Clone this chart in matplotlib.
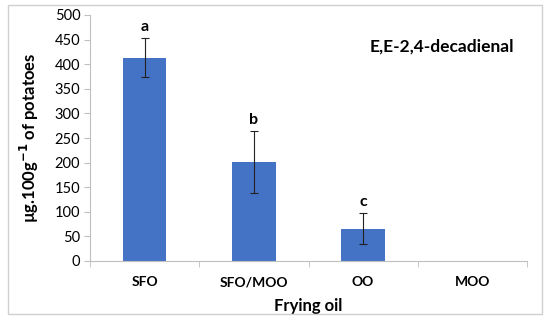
import matplotlib
matplotlib.use("Agg")
import matplotlib.pyplot as plt
from matplotlib.patches import Rectangle
import numpy as np

categories = ["SFO", "SFO/MOO", "OO", "MOO"]
values = [413, 202, 66, 0]
errors = [40, 63, 31, 0]
letters = ["a", "b", "c", ""]

plt.rcParams['font.family'] = ['Lato', 'DejaVu Sans']

fig = plt.figure(figsize=(5.5, 3.23), dpi=100)
ax = fig.add_axes([90/550, 62/323, 437/550, 246/323])

x = np.arange(len(categories))
ax.bar(x, values, width=0.4, color="#4472C4", zorder=2)
for xi, v, e, l in zip(x, values, errors, letters):
    if e > 0:
        ax.errorbar(xi, v, yerr=e, fmt="none", ecolor="#222222", elinewidth=0.8,
                    capsize=3, capthick=0.8, zorder=3)
    if l:
        ax.text(xi, v + e + 8, l, ha="center", va="bottom", fontsize=11.5, fontweight="bold")

ax.set_xlim(-0.5, len(categories) - 0.5)
ax.set_ylim(0, 500)
ax.set_yticks(np.arange(0, 501, 50))
ax.set_xticks(x)
ax.set_xticklabels(categories, fontsize=10, fontweight="bold")
ax.set_xticks(np.arange(-0.5, len(categories), 1), minor=True)
ax.tick_params(axis="x", which="major", length=0, pad=11)
ax.tick_params(axis="x", which="minor", length=4, color="#BFBFBF")
ax.tick_params(axis="y", labelsize=10.5, length=4, color="#BFBFBF", pad=3)
for s in ["top", "right"]:
    ax.spines[s].set_visible(False)
for s in ["left", "bottom"]:
    ax.spines[s].set_color("#BFBFBF")
    ax.spines[s].set_linewidth(0.8)

ax.set_xlabel("Frying oil", fontsize=12, fontweight="bold", labelpad=7)
ax.set_ylabel(r"µg.100g$^{\mathbf{-1}}$ of potatoes", fontsize=12, fontweight="bold", labelpad=10)
ax.text(0.97, 0.87, "E,E-2,4-decadienal", transform=ax.transAxes, ha="right", va="center",
        fontsize=12.5, fontweight="bold")

fig.patches.append(Rectangle((8/550, 9/323), 534/550, 309/323, transform=fig.transFigure,
                             fill=False, edgecolor="#D0D0D0", linewidth=1))

fig.savefig("out.png", dpi=100)
